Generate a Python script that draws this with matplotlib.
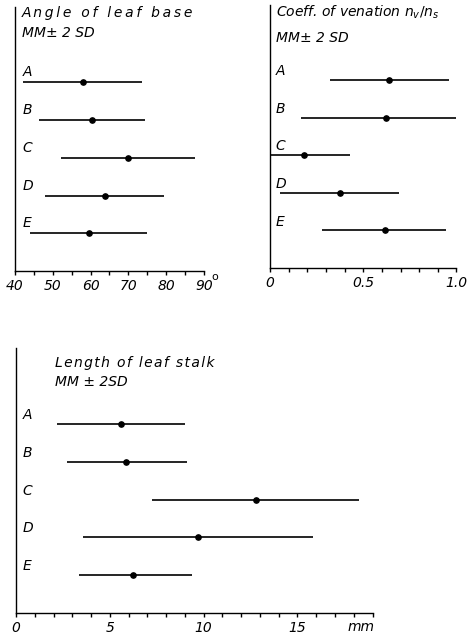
import numpy as np
from matplotlib import pyplot as plt

groups = ['A', 'B', 'C', 'D', 'E']

# angle of leaf base (degrees): mean, lower, upper (mean +- 2 SD)
angle_mean = [57.9, 60.4, 69.9, 63.7, 59.5]
angle_lo = [42.2, 46.4, 52.3, 47.9, 44.1]
angle_hi = [73.7, 74.5, 87.5, 79.5, 75.0]

# coefficient of venation nv/ns
ven_mean = [0.640, 0.621, 0.182, 0.374, 0.615]
ven_lo = [0.322, 0.165, 0.0, 0.052, 0.281]
ven_hi = [0.961, 1.0, 0.429, 0.692, 0.946]

# length of leaf stalk (mm)
stalk_mean = [5.59, 5.87, 12.77, 9.72, 6.26]
stalk_lo = [2.2, 2.7, 7.25, 3.58, 3.35]
stalk_hi = [8.99, 9.11, 18.3, 15.83, 9.36]

angle_ticks = [40, 50, 60, 70, 80, 90]
ven_ticks = [0, 0.5, 1.0]
stalk_ticks = [0, 5, 10, 15]

TS = '\u2009'  # thin space used as letter spacing
HS = '\u200a'


def spaced(s, sep):
    return sep.join(s)


def draw_panel(ax, mean, lo, hi):
    rows = np.arange(len(groups), 0, -1)  # A on top, E at bottom
    ax.hlines(rows, lo, hi, color='black', lw=1.2)
    ax.plot(mean, rows, 'o', color='black', ms=3.8)
    ax.set_ylim(0, 7)
    ax.spines['top'].set_visible(False)
    ax.spines['right'].set_visible(False)
    ax.spines['left'].set_linewidth(1.0)
    ax.spines['bottom'].set_linewidth(1.0)
    ax.tick_params(axis='y', left=False, labelleft=False)
    ax.tick_params(axis='x', direction='out', length=3, width=1.0, pad=3,
                   labelsize=10)
    return rows


plt.rcParams['font.family'] = ['DejaVu Sans']
fig = plt.figure(figsize=(4.76, 6.35), dpi=100)

# --- panel 1: angle of leaf base
ax1 = fig.add_axes([0.0315, 0.5732, 0.397, 0.4157])
rows = draw_panel(ax1, angle_mean, angle_lo, angle_hi)
ax1.set_xlim(40, 90)
ax1.set_xticks(np.arange(40, 91, 5))
ax1.set_xticklabels([str(t) if t in angle_ticks else '' for t in range(40, 91, 5)],
                    fontstyle='italic')
ax1.annotate('o', xy=(92.0, -0.005), xycoords=('data', 'axes fraction'),
             fontsize=8, ha='left', va='top', annotation_clip=False)
ax1.text(41.8, 6.85, spaced('Angle of leaf base', TS), fontsize=10,
         fontstyle='italic', va='center', ha='left')
ax1.text(41.8, 6.32, 'MM\u00b1 2 SD', fontsize=10, fontstyle='italic',
         va='center', ha='left')
for g, r in zip(groups, rows):
    ax1.text(42.0, r + 0.08, g, fontsize=10, fontstyle='italic', va='bottom', ha='left')

# --- panel 2: coefficient of venation
ax2 = fig.add_axes([0.567, 0.578, 0.392, 0.414])
rows = draw_panel(ax2, ven_mean, ven_lo, ven_hi)
ax2.set_xlim(0, 1.0)
ax2.set_xticks(np.round(np.arange(0, 1.01, 0.1), 1))
ax2.set_xticklabels(['0' if abs(t) < 1e-9 else ('%.1f' % t if round(t, 1) in ven_ticks else '')
                     for t in np.arange(0, 1.01, 0.1)], fontstyle='italic')
ax2.text(0.035, 6.81, 'Coeff. of venation $n_v/n_s$', fontsize=10,
         fontstyle='italic', va='center', ha='left')
ax2.text(0.035, 6.12, 'MM\u00b1 2 SD', fontsize=10, fontstyle='italic',
         va='center', ha='left')
for g, r in zip(groups, rows):
    ax2.text(0.03, r + 0.05, g, fontsize=10, fontstyle='italic', va='bottom', ha='left')

# --- panel 3: length of leaf stalk
ax3 = fig.add_axes([0.0336, 0.0346, 0.749, 0.417])
rows = draw_panel(ax3, stalk_mean, stalk_lo, stalk_hi)
ax3.set_xlim(0, 19)
ax3.set_xticks(np.arange(0, 20, 1))
ax3.set_xticklabels([str(t) if t in stalk_ticks else '' for t in range(0, 20)],
                    fontstyle='italic')
ax3.annotate('mm', xy=(18.4, -0.053), xycoords=('data', 'axes fraction'),
             fontsize=10, fontstyle='italic', ha='center', va='center',
             annotation_clip=False)
ax3.text(2.1, 6.61, spaced('Length of leaf stalk', HS), fontsize=10,
         fontstyle='italic', va='center', ha='left')
ax3.text(2.1, 6.11, 'MM \u00b1 2SD', fontsize=10, fontstyle='italic',
         va='center', ha='left')
for g, r in zip(groups, rows):
    ax3.text(0.35, r + 0.05, g, fontsize=10, fontstyle='italic', va='bottom', ha='left')

fig.savefig('out.png', dpi=100)
